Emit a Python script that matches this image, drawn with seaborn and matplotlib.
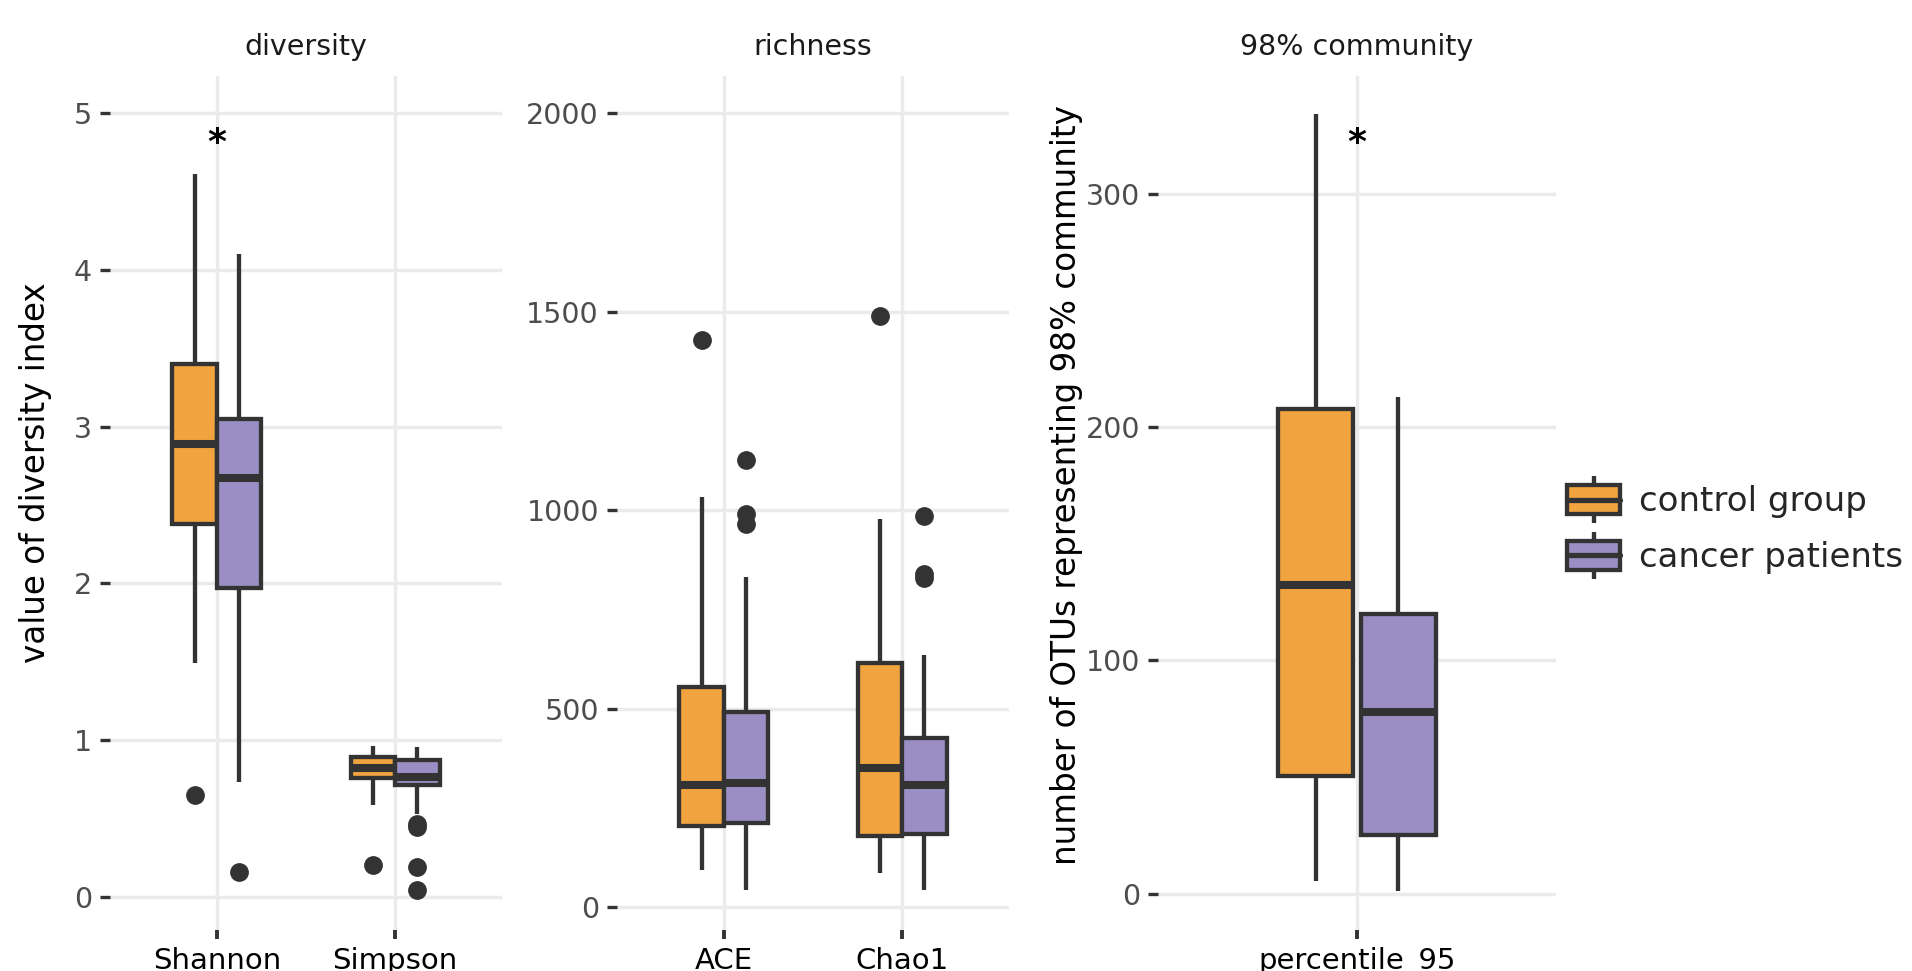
import numpy as np
import pandas as pd
import seaborn as sns
import matplotlib
matplotlib.use("Agg")
import matplotlib.pyplot as plt
from matplotlib.patches import Patch, Rectangle
from matplotlib.lines import Line2D
from matplotlib.legend_handler import HandlerBase

# ---------------- data ----------------
groups = ["control group", "cancer patients"]
diversity_cats = ["Shannon", "Simpson"]
richness_cats = ["ACE", "Chao1"]
community_cats = ["percentile_95"]

# five-number summaries: [lower whisker, Q1, median, Q3, upper whisker]
shannon_control = [1.49, 2.38, 2.89, 3.40, 4.61]
shannon_cancer = [0.73, 1.97, 2.67, 3.05, 4.10]
simpson_control = [0.585, 0.755, 0.82, 0.893, 0.96]
simpson_cancer = [0.526, 0.715, 0.763, 0.875, 0.953]
ace_control = [94, 203, 307, 554, 1033]
ace_cancer = [44, 211, 312, 491, 832]
chao1_control = [86, 179, 351, 616, 978]
chao1_cancer = [42, 183, 307, 426, 636]
p95_control = [5.6, 50.4, 132.2, 207.9, 334]
p95_cancer = [1.3, 25.0, 77.8, 120.0, 212.9]

# outliers
shannon_control_out = [0.65]
shannon_cancer_out = [0.16]
simpson_control_out = [0.20]
simpson_cancer_out = [0.465, 0.445, 0.19, 0.04]
ace_control_out = [1430]
ace_cancer_out = [1126, 991, 964]
chao1_control_out = [1488]
chao1_cancer_out = [984, 838, 830]
p95_control_out = []
p95_cancer_out = []

diversity_ticks = [0, 1, 2, 3, 4, 5]
richness_ticks = [0, 500, 1000, 1500, 2000]
community_ticks = [0, 100, 200, 300]

# significance marks: (category, y)
diversity_stars = [("Shannon", 4.88)]
community_stars = [("percentile_95", 326.5)]

ORANGE = "#F0A33F"
PURPLE = "#9A8EC4"
EDGE = "#333333"
GRID = "#EBEBEB"


def sample_from_summary(summary, outliers):
    """Observations reproducing a five-number summary plus its outliers."""
    lo, q1, med, q3, hi = summary
    return list(outliers) + [lo] + [q1] * 10 + [med] * 10 + [q3] * 10 + [hi]


def build(cat_names, per_cat):
    rows = []
    for cat, pairs in zip(cat_names, per_cat):
        for grp, (summ, outs) in zip(groups, pairs):
            for v in sample_from_summary(summ, outs):
                rows.append({"index": cat, "group": grp, "value": v})
    return pd.DataFrame(rows)


df_div = build(diversity_cats, [
    [(shannon_control, shannon_control_out), (shannon_cancer, shannon_cancer_out)],
    [(simpson_control, simpson_control_out), (simpson_cancer, simpson_cancer_out)],
])
df_rich = build(richness_cats, [
    [(ace_control, ace_control_out), (ace_cancer, ace_cancer_out)],
    [(chao1_control, chao1_control_out), (chao1_cancer, chao1_cancer_out)],
])
df_comm = build(community_cats, [
    [(p95_control, p95_control_out), (p95_cancer, p95_cancer_out)],
])

# ---------------- figure ----------------
sns.set_theme(style="white")
plt.rcParams["font.family"] = ["DejaVu Sans"]

W, H = 1912, 971
fig = plt.figure(figsize=(W / 100, H / 100), dpi=100)


def px_axes(left, right, top, bottom):
    return fig.add_axes([left / W, 1 - bottom / H, (right - left) / W, (bottom - top) / H])


ax1 = px_axes(110, 502, 76, 930)
ax2 = px_axes(617, 1009, 76, 930)
ax3 = px_axes(1158, 1556, 76, 930)

LW = 3.1
box_kw = dict(
    x="index", y="value", hue="group", hue_order=groups,
    palette=[ORANGE, PURPLE], saturation=1, width=0.5,
    linecolor=EDGE, linewidth=LW, fliersize=12.5, legend=False,
    showcaps=False,
    medianprops=dict(linewidth=5.8, color=EDGE),
    flierprops=dict(marker="o", markerfacecolor=EDGE, markeredgecolor=EDGE,
                    markersize=12.5),
)

sns.boxplot(data=df_div, ax=ax1, order=diversity_cats, gap=0, **box_kw)
sns.boxplot(data=df_rich, ax=ax2, order=richness_cats, gap=0, **box_kw)
sns.boxplot(data=df_comm, ax=ax3, order=community_cats, gap=0.1, **box_kw)

panels = [
    (ax1, "diversity", diversity_cats, diversity_ticks, (-0.213, 5.238),
     "value of diversity index", (-0.191, 0.536)),
    (ax2, "richness", richness_cats, richness_ticks, (-58, 2094), None, None),
    (ax3, "98% community", community_cats, community_ticks, (-15.6, 350.5),
     "number of OTUs representing 98% community", (-0.231, 0.521)),
]

for ax, title, cats, ticks, ylim, ylabel, lab_xy in panels:
    ax.set_facecolor("white")
    for s in ax.spines.values():
        s.set_visible(False)
    ax.set_xlim(-0.6, len(cats) - 0.4)
    ax.set_ylim(*ylim)
    ax.set_yticks(ticks)
    ax.set_yticklabels([str(t) for t in ticks])
    ax.set_axisbelow(True)
    ax.grid(True, which="major", axis="both", color=GRID, linewidth=2.5)
    ax.tick_params(axis="y", which="major", length=7.2, width=2.4, color=EDGE,
                   labelsize=20.5, labelcolor="#4D4D4D", pad=5.8, left=True)
    ax.tick_params(axis="x", which="major", length=6.5, width=2.8, color=EDGE,
                   labelsize=21, labelcolor="black", pad=5.5, bottom=True)
    ax.set_xlabel("")
    ax.set_title(title, fontsize=20.5, color="#1A1A1A", pad=15)
    if ylabel:
        ax.set_ylabel(ylabel, fontsize=23.5, color="black")
        ax.yaxis.set_label_coords(*lab_xy)
        ax.yaxis.label.set_verticalalignment("center")
    else:
        ax.set_ylabel("")

for ax, stars in [(ax1, diversity_stars), (ax3, community_stars)]:
    cats = [t.get_text() for t in ax.get_xticklabels()]
    for cat, yv in stars:
        ax.annotate("*", xy=(cats.index(cat), yv), xytext=(0, -15),
                    textcoords="offset points", ha="center", va="baseline",
                    fontsize=26, fontweight="bold", color="black")


# ---------------- legend with box-glyph keys ----------------
class BoxKeyHandler(HandlerBase):
    def create_artists(self, legend, orig_handle, xdescent, ydescent,
                       width, height, fontsize, trans):
        fc = orig_handle.get_facecolor()
        x0, y0 = -xdescent, -ydescent
        cx = x0 + width / 2
        ext = 0.3 * height
        whisk = Line2D([cx, cx], [y0 - ext, y0 + height + ext], color=EDGE,
                       lw=LW, transform=trans, solid_capstyle="butt")
        rect = Rectangle((x0, y0), width, height, facecolor=fc, edgecolor=EDGE,
                         lw=LW, transform=trans)
        med = Line2D([x0, x0 + width], [y0 + height / 2] * 2, color=EDGE,
                     lw=3.8, transform=trans)
        return [whisk, rect, med]


handles = [Patch(facecolor=ORANGE, label=groups[0]),
           Patch(facecolor=PURPLE, label=groups[1])]
fig.legend(handles=handles, loc="center left",
           bbox_to_anchor=(1567 / W, 1 - 529.5 / H),
           frameon=False, fontsize=24.5, handlelength=1.56, handleheight=0.95,
           handletextpad=0.55, labelspacing=0.65, borderpad=0, borderaxespad=0,
           handler_map={Patch: BoxKeyHandler()})

fig.savefig("out.png", dpi=100, facecolor="white")
